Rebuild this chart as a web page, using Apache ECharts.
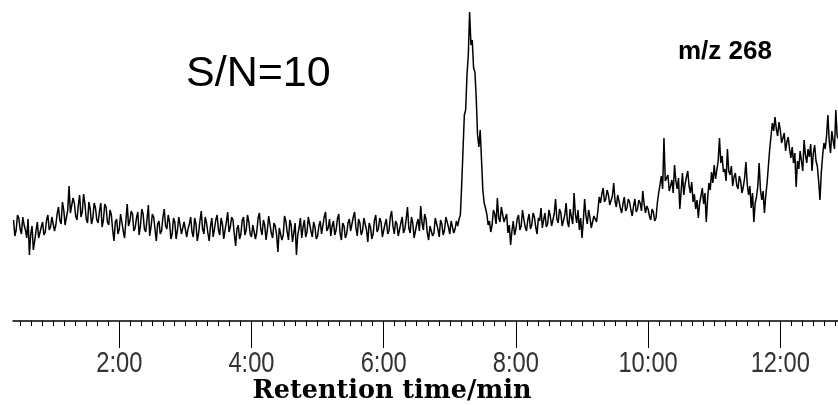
<!DOCTYPE html>
<html>
<head>
<meta charset="utf-8">
<script src="https://cdn.jsdelivr.net/npm/echarts@6/dist/echarts.min.js"></script>
<style>
html,body{margin:0;padding:0;background:#fff;}
#chart{width:838px;height:405px;}
</style>
</head>
<body>
<div id="chart"></div>
<script>
// Retention time (min) of each scan
const scanTimes = [
0.40,0.42,0.44,0.46,0.48,0.50,0.52,0.54,0.56,0.58,
0.60,0.62,0.64,0.66,0.68,0.70,0.72,0.74,0.76,0.78,
0.80,0.82,0.84,0.86,0.88,0.90,0.92,0.94,0.96,0.98,
1.00,1.02,1.04,1.06,1.08,1.10,1.12,1.14,1.16,1.18,
1.20,1.22,1.24,1.26,1.28,1.30,1.32,1.34,1.36,1.38,
1.40,1.42,1.44,1.46,1.48,1.50,1.52,1.54,1.56,1.58,
1.60,1.62,1.64,1.66,1.68,1.70,1.72,1.74,1.76,1.78,
1.80,1.82,1.84,1.86,1.88,1.90,1.92,1.94,1.96,1.98,
2.00,2.02,2.04,2.06,2.08,2.10,2.12,2.14,2.16,2.18,
2.20,2.22,2.24,2.26,2.28,2.30,2.32,2.34,2.36,2.38,
2.40,2.42,2.44,2.46,2.48,2.50,2.52,2.54,2.56,2.58,
2.60,2.62,2.64,2.66,2.68,2.70,2.72,2.74,2.76,2.78,
2.80,2.82,2.84,2.86,2.88,2.90,2.92,2.94,2.96,2.98,
3.00,3.02,3.04,3.06,3.08,3.10,3.12,3.14,3.16,3.18,
3.20,3.22,3.24,3.26,3.28,3.30,3.32,3.34,3.36,3.38,
3.40,3.42,3.44,3.46,3.48,3.50,3.52,3.54,3.56,3.58,
3.60,3.62,3.64,3.66,3.68,3.70,3.72,3.74,3.76,3.78,
3.80,3.82,3.84,3.86,3.88,3.90,3.92,3.94,3.96,3.98,
4.00,4.02,4.04,4.06,4.08,4.10,4.12,4.14,4.16,4.18,
4.20,4.22,4.24,4.26,4.28,4.30,4.32,4.34,4.36,4.38,
4.40,4.42,4.44,4.46,4.48,4.50,4.52,4.54,4.56,4.58,
4.60,4.62,4.64,4.66,4.68,4.70,4.72,4.74,4.76,4.78,
4.80,4.82,4.84,4.86,4.88,4.90,4.92,4.94,4.96,4.98,
5.00,5.02,5.04,5.06,5.08,5.10,5.12,5.14,5.16,5.18,
5.20,5.22,5.24,5.26,5.28,5.30,5.32,5.34,5.36,5.38,
5.40,5.42,5.44,5.46,5.48,5.50,5.52,5.54,5.56,5.58,
5.60,5.62,5.64,5.66,5.68,5.70,5.72,5.74,5.76,5.78,
5.80,5.82,5.84,5.86,5.88,5.90,5.92,5.94,5.96,5.98,
6.00,6.02,6.04,6.06,6.08,6.10,6.12,6.14,6.16,6.18,
6.20,6.22,6.24,6.26,6.28,6.30,6.32,6.34,6.36,6.38,
6.40,6.42,6.44,6.46,6.48,6.50,6.52,6.54,6.56,6.58,
6.60,6.62,6.64,6.66,6.68,6.70,6.72,6.74,6.76,6.78,
6.80,6.82,6.84,6.86,6.88,6.90,6.92,6.94,6.96,6.98,
7.00,7.02,7.04,7.06,7.08,7.10,7.12,7.14,7.16,7.18,
7.20,7.22,7.24,7.26,7.28,7.30,7.32,7.34,7.36,7.38,
7.40,7.42,7.44,7.46,7.48,7.50,7.52,7.54,7.56,7.58,
7.60,7.62,7.64,7.66,7.68,7.70,7.72,7.74,7.76,7.78,
7.80,7.82,7.84,7.86,7.88,7.90,7.92,7.94,7.96,7.98,
8.00,8.02,8.04,8.06,8.08,8.10,8.12,8.14,8.16,8.18,
8.20,8.22,8.24,8.26,8.28,8.30,8.32,8.34,8.36,8.38,
8.40,8.42,8.44,8.46,8.48,8.50,8.52,8.54,8.56,8.58,
8.60,8.62,8.64,8.66,8.68,8.70,8.72,8.74,8.76,8.78,
8.80,8.82,8.84,8.86,8.88,8.90,8.92,8.94,8.96,8.98,
9.00,9.02,9.04,9.06,9.08,9.10,9.12,9.14,9.16,9.18,
9.20,9.22,9.24,9.26,9.28,9.30,9.32,9.34,9.36,9.38,
9.40,9.42,9.44,9.46,9.48,9.50,9.52,9.54,9.56,9.58,
9.60,9.62,9.64,9.66,9.68,9.70,9.72,9.74,9.76,9.78,
9.80,9.82,9.84,9.86,9.88,9.90,9.92,9.94,9.96,9.98,
10.00,10.02,10.04,10.06,10.08,10.10,10.12,10.14,10.16,10.18,
10.20,10.22,10.24,10.26,10.28,10.30,10.32,10.34,10.36,10.38,
10.40,10.42,10.44,10.46,10.48,10.50,10.52,10.54,10.56,10.58,
10.60,10.62,10.64,10.66,10.68,10.70,10.72,10.74,10.76,10.78,
10.80,10.82,10.84,10.86,10.88,10.90,10.92,10.94,10.96,10.98,
11.00,11.02,11.04,11.06,11.08,11.10,11.12,11.14,11.16,11.18,
11.20,11.22,11.24,11.26,11.28,11.30,11.32,11.34,11.36,11.38,
11.40,11.42,11.44,11.46,11.48,11.50,11.52,11.54,11.56,11.58,
11.60,11.62,11.64,11.66,11.68,11.70,11.72,11.74,11.76,11.78,
11.80,11.82,11.84,11.86,11.88,11.90,11.92,11.94,11.96,11.98,
12.00,12.02,12.04,12.06,12.08,12.10,12.12,12.14,12.16,12.18,
12.20,12.22,12.24,12.26,12.28,12.30,12.32,12.34,12.36,12.38,
12.40,12.42,12.44,12.46,12.48,12.50,12.52,12.54,12.56,12.58,
12.60,12.62,12.64,12.66,12.68,12.70,12.72,12.74,12.76,12.78,
12.80,12.82,12.84,12.86,12.88
];
// Ion abundance of m/z 268 (arbitrary units) at each scan
const intensity = [
101,85,91,106,103,92,87,104,96,91,
83,102,66,87,95,71,80,90,99,83,
84,94,99,86,89,101,106,91,94,104,
106,90,96,107,114,101,97,119,111,96,
98,111,135,108,106,123,118,105,101,116,
126,104,109,127,117,102,98,119,112,97,
103,118,113,101,98,110,118,94,101,117,
114,99,96,111,106,91,80,99,102,87,
92,107,105,90,83,100,117,95,100,110,
107,90,93,103,109,86,95,112,107,92,
89,102,116,85,94,107,104,92,80,97,
100,87,90,104,112,95,92,106,99,82,
87,103,99,82,91,104,96,87,86,99,
101,84,92,97,104,89,84,103,97,80,
88,100,110,92,87,104,98,88,80,95,
103,84,92,101,106,91,86,103,97,82,
91,99,109,89,94,104,101,87,75,92,
96,82,87,101,104,86,91,106,99,87,
84,96,97,82,89,103,108,92,86,101,
96,81,91,105,103,88,83,98,95,86,
69,93,94,81,86,105,100,89,81,101,
96,79,88,98,66,86,93,103,83,94,
101,84,89,104,97,90,84,99,94,82,
85,95,100,87,88,104,109,90,93,102,
85,95,100,86,91,102,107,88,81,98,
95,83,87,98,102,90,92,104,109,93,
85,102,98,86,90,103,102,91,79,98,
94,82,87,101,106,89,92,103,99,84,
85,97,102,87,90,104,110,95,87,100,
97,85,83,98,104,88,92,102,114,93,
88,104,98,83,85,97,102,90,115,98,
91,107,102,88,81,95,96,85,88,103,
104,92,84,101,97,86,91,104,106,94,
87,100,98,88,92,100,95,102,106,136,
171,206,211,246,266,309,276,281,253,249,
223,186,174,191,161,131,118,113,107,96,
100,89,96,111,107,97,123,103,99,114,
113,99,97,107,88,96,76,90,100,86,
92,102,106,91,95,111,102,94,90,101,
107,92,96,108,104,94,87,103,100,113,
93,101,108,94,97,111,105,95,94,107,
122,102,98,112,108,95,97,106,118,99,
94,112,104,97,128,107,98,111,91,103,
83,100,122,105,97,111,104,93,94,105,
106,99,110,124,118,127,133,119,122,131,
126,116,117,125,138,120,114,126,120,113,
108,117,124,110,113,122,119,111,105,115,
122,109,112,121,118,110,130,117,108,115,
112,105,101,112,109,100,103,118,128,136,
145,132,183,140,138,146,130,135,141,128,
156,140,132,143,112,130,148,126,137,144,
150,135,128,139,119,127,112,121,103,118,
125,133,117,128,99,122,138,131,149,138,
156,142,143,160,183,158,165,149,152,140,
172,150,146,155,135,144,148,136,132,145,
140,128,134,143,159,137,126,135,113,128,
99,118,124,135,158,131,121,130,108,125,
138,155,172,185,198,190,204,192,185,199,
191,178,180,188,170,179,184,172,163,174,
158,168,134,160,152,170,160,150,181,166,
158,172,164,177,150,168,176,160,155,140,
121,148,165,178,172,185,206,180,168,190,
180,172,211,185,182
];
// Axis ticks (minutes) and their labels
const majorTicks = [2, 4, 6, 8, 10, 12];
const tickLabels = ['2:00', '4:00', '6:00', '8:00', '10:00', '12:00'];
const minorTicks = [];
for (let s = 30; s <= 770; s += 10) minorTicks.push(s / 60); // every 10 s
const axisTitle = 'Retention time/min';
const snText = 'S/N=10';
const ionText = 'm/z 268';

const data = scanTimes.map((t, i) => [t, intensity[i]]);

const chart = echarts.init(document.getElementById('chart'), null, {renderer: 'canvas'});
const baseOption = {
  animation: false,
  backgroundColor: '#ffffff',
  grid: {left: 13, right: 0, top: 0, bottom: 84},
  xAxis: [{
    type: 'value',
    min: 0.392,
    max: 12.873,
    axisLine: {show: true, lineStyle: {color: '#000', width: 1.5}},
    axisTick: {show: true, customValues: majorTicks, length: 27, lineStyle: {color: '#000', width: 1}},
    axisLabel: {show: false},
    splitLine: {show: false}
  }, {
    type: 'value',
    position: 'bottom',
    min: 0.392,
    max: 12.873,
    axisLine: {show: false},
    axisTick: {show: true, customValues: minorTicks, length: 5, lineStyle: {color: '#000', width: 1}},
    axisLabel: {show: false},
    splitLine: {show: false}
  }],
  yAxis: {type: 'value', min: 0, max: 321, show: false},
  series: [{
    type: 'line',
    data: data,
    showSymbol: false,
    symbol: 'none',
    lineStyle: {color: '#000', width: 1.5},
    silent: true
  }]
};
chart.setOption(baseOption);

// Tick labels: condensed text placed at each major tick through the x scale
const labelGraphics = majorTicks.map((v, i) => ({
  type: 'text',
  x: chart.convertToPixel({xAxisIndex: 0}, v),
  y: 364,
  scaleX: 0.79,
  style: {
    text: tickLabels[i],
    fill: '#333',
    align: 'center',
    verticalAlign: 'middle',
    font: "30px 'Liberation Sans', Arial, sans-serif"
  }
}));

chart.setOption({
  graphic: labelGraphics.concat([
    {type: 'text', left: 186, top: 53, style: {text: snText, fill: '#000', font: "43px 'Liberation Sans', Arial, sans-serif"}},
    {type: 'text', left: 678, top: 39, style: {text: ionText, fill: '#000', font: "bold 26px 'Liberation Sans', Arial, sans-serif"}},
    {type: 'text', x: 392, y: 391, style: {text: axisTitle, fill: '#000', align: 'center', verticalAlign: 'middle', font: "bold 25.5px 'DejaVu Serif', serif"}}
  ])
});
</script>
</body>
</html>
